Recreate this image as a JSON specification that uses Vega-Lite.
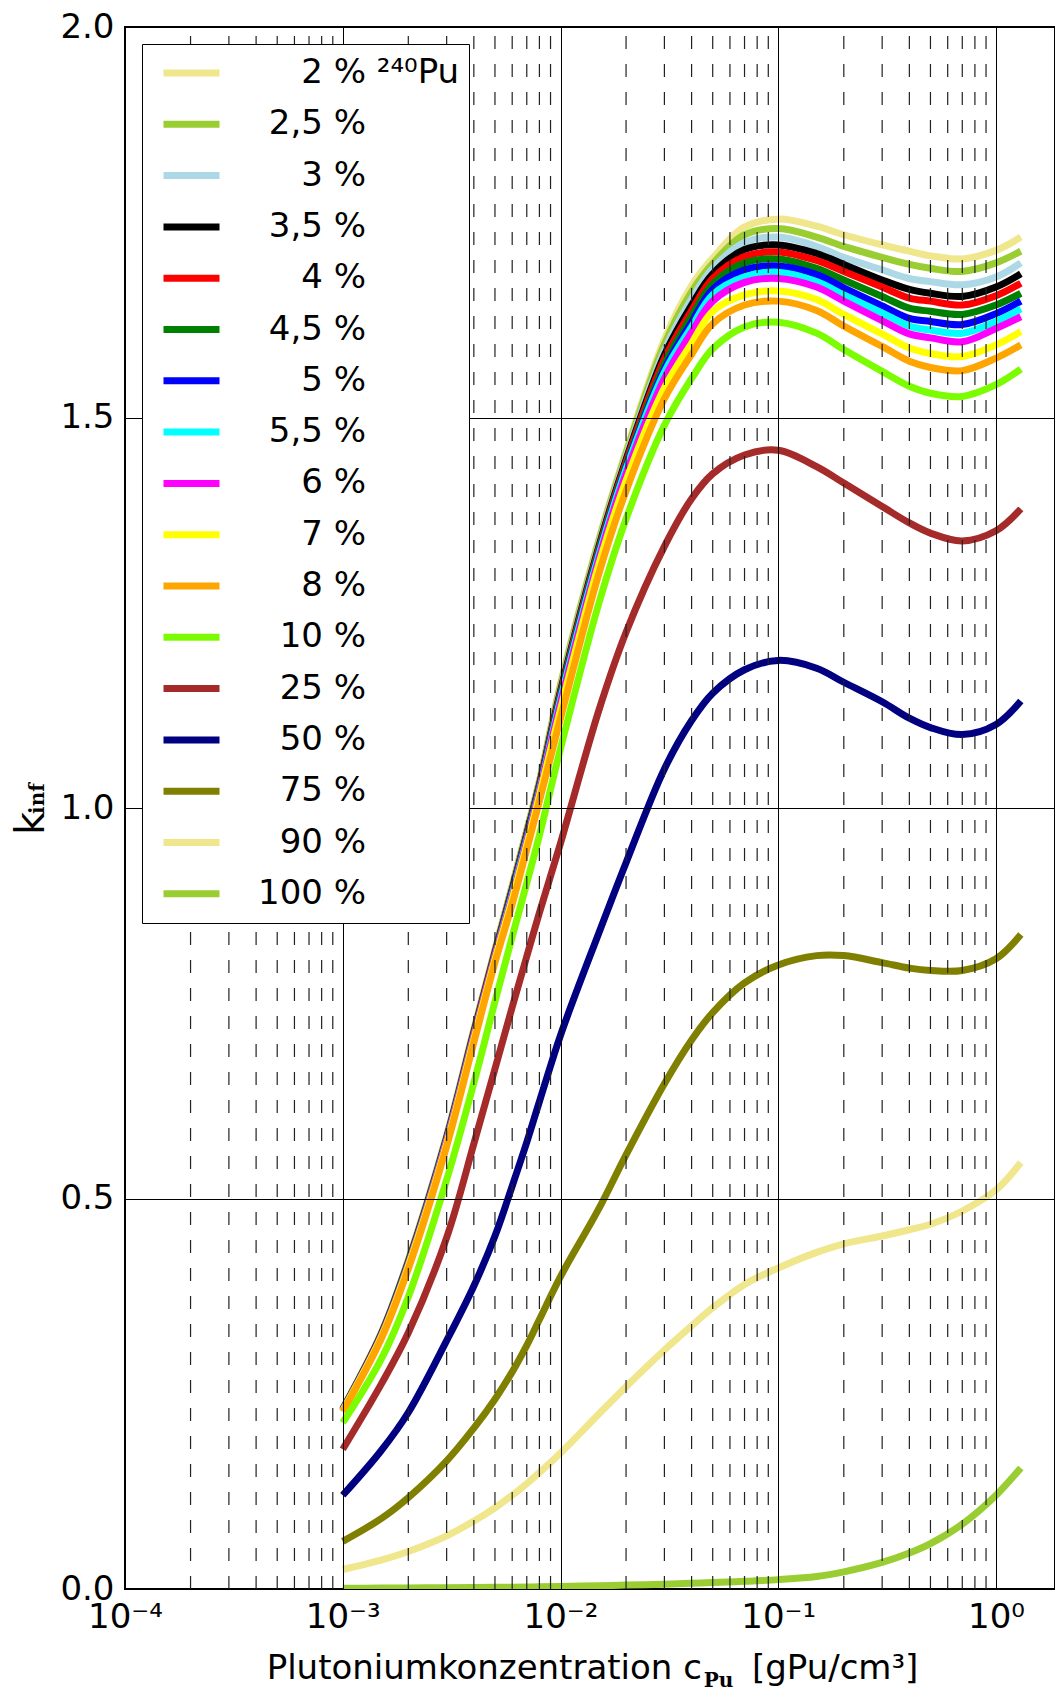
{
"$schema":"https://vega.github.io/schema/vega-lite/v6.json",
"width":930,"height":1562,
"autosize":{"type":"none"},
"padding":{"left":125,"top":27,"right":0,"bottom":102},
"background":"white",
"config":{"font":"DejaVu Sans","view":{"stroke":"black","strokeWidth":2}},
"layer":[
{
"data":{"values":[
{"s":"2 %","x":0.001,"k":0.231},{"s":"2 %","x":0.0015,"k":0.328},{"s":"2 %","x":0.002,"k":0.421},{"s":"2 %","x":0.003,"k":0.581},{"s":"2 %","x":0.004,"k":0.716},{"s":"2 %","x":0.005,"k":0.818},{"s":"2 %","x":0.006,"k":0.901},{"s":"2 %","x":0.007,"k":0.972},{"s":"2 %","x":0.008,"k":1.035},{"s":"2 %","x":0.01,"k":1.159},{"s":"2 %","x":0.015,"k":1.344},{"s":"2 %","x":0.02,"k":1.457},{"s":"2 %","x":0.03,"k":1.600},{"s":"2 %","x":0.04,"k":1.669},{"s":"2 %","x":0.05,"k":1.704},{"s":"2 %","x":0.07,"k":1.744},{"s":"2 %","x":0.1,"k":1.754},{"s":"2 %","x":0.15,"k":1.745},{"s":"2 %","x":0.2,"k":1.734},{"s":"2 %","x":0.3,"k":1.721},{"s":"2 %","x":0.4,"k":1.713},{"s":"2 %","x":0.5,"k":1.707},{"s":"2 %","x":0.7,"k":1.703},{"s":"2 %","x":1,"k":1.714},{"s":"2 %","x":1.3,"k":1.731},
{"s":"2,5 %","x":0.001,"k":0.231},{"s":"2,5 %","x":0.0015,"k":0.327},{"s":"2,5 %","x":0.002,"k":0.421},{"s":"2,5 %","x":0.003,"k":0.580},{"s":"2,5 %","x":0.004,"k":0.716},{"s":"2,5 %","x":0.005,"k":0.818},{"s":"2,5 %","x":0.006,"k":0.900},{"s":"2,5 %","x":0.007,"k":0.971},{"s":"2,5 %","x":0.008,"k":1.034},{"s":"2,5 %","x":0.01,"k":1.157},{"s":"2,5 %","x":0.015,"k":1.342},{"s":"2,5 %","x":0.02,"k":1.454},{"s":"2,5 %","x":0.03,"k":1.594},{"s":"2,5 %","x":0.04,"k":1.661},{"s":"2,5 %","x":0.05,"k":1.697},{"s":"2,5 %","x":0.07,"k":1.734},{"s":"2,5 %","x":0.1,"k":1.742},{"s":"2,5 %","x":0.15,"k":1.731},{"s":"2,5 %","x":0.2,"k":1.719},{"s":"2,5 %","x":0.3,"k":1.705},{"s":"2,5 %","x":0.4,"k":1.696},{"s":"2,5 %","x":0.5,"k":1.691},{"s":"2,5 %","x":0.7,"k":1.687},{"s":"2,5 %","x":1,"k":1.698},{"s":"2,5 %","x":1.3,"k":1.713},
{"s":"3 %","x":0.001,"k":0.230},{"s":"3 %","x":0.0015,"k":0.327},{"s":"3 %","x":0.002,"k":0.420},{"s":"3 %","x":0.003,"k":0.579},{"s":"3 %","x":0.004,"k":0.714},{"s":"3 %","x":0.005,"k":0.816},{"s":"3 %","x":0.006,"k":0.898},{"s":"3 %","x":0.007,"k":0.969},{"s":"3 %","x":0.008,"k":1.032},{"s":"3 %","x":0.01,"k":1.153},{"s":"3 %","x":0.015,"k":1.338},{"s":"3 %","x":0.02,"k":1.450},{"s":"3 %","x":0.03,"k":1.586},{"s":"3 %","x":0.04,"k":1.652},{"s":"3 %","x":0.05,"k":1.691},{"s":"3 %","x":0.07,"k":1.724},{"s":"3 %","x":0.1,"k":1.731},{"s":"3 %","x":0.15,"k":1.719},{"s":"3 %","x":0.2,"k":1.705},{"s":"3 %","x":0.3,"k":1.689},{"s":"3 %","x":0.4,"k":1.678},{"s":"3 %","x":0.5,"k":1.674},{"s":"3 %","x":0.7,"k":1.670},{"s":"3 %","x":1,"k":1.680},{"s":"3 %","x":1.3,"k":1.698},
{"s":"3,5 %","x":0.001,"k":0.230},{"s":"3,5 %","x":0.0015,"k":0.326},{"s":"3,5 %","x":0.002,"k":0.419},{"s":"3,5 %","x":0.003,"k":0.578},{"s":"3,5 %","x":0.004,"k":0.713},{"s":"3,5 %","x":0.005,"k":0.815},{"s":"3,5 %","x":0.006,"k":0.896},{"s":"3,5 %","x":0.007,"k":0.967},{"s":"3,5 %","x":0.008,"k":1.030},{"s":"3,5 %","x":0.01,"k":1.150},{"s":"3,5 %","x":0.015,"k":1.335},{"s":"3,5 %","x":0.02,"k":1.446},{"s":"3,5 %","x":0.03,"k":1.580},{"s":"3,5 %","x":0.04,"k":1.644},{"s":"3,5 %","x":0.05,"k":1.684},{"s":"3,5 %","x":0.07,"k":1.715},{"s":"3,5 %","x":0.1,"k":1.721},{"s":"3,5 %","x":0.15,"k":1.710},{"s":"3,5 %","x":0.2,"k":1.696},{"s":"3,5 %","x":0.3,"k":1.676},{"s":"3,5 %","x":0.4,"k":1.664},{"s":"3,5 %","x":0.5,"k":1.659},{"s":"3,5 %","x":0.7,"k":1.655},{"s":"3,5 %","x":1,"k":1.667},{"s":"3,5 %","x":1.3,"k":1.684},
{"s":"4 %","x":0.001,"k":0.230},{"s":"4 %","x":0.0015,"k":0.325},{"s":"4 %","x":0.002,"k":0.418},{"s":"4 %","x":0.003,"k":0.577},{"s":"4 %","x":0.004,"k":0.712},{"s":"4 %","x":0.005,"k":0.814},{"s":"4 %","x":0.006,"k":0.894},{"s":"4 %","x":0.007,"k":0.965},{"s":"4 %","x":0.008,"k":1.028},{"s":"4 %","x":0.01,"k":1.147},{"s":"4 %","x":0.015,"k":1.332},{"s":"4 %","x":0.02,"k":1.443},{"s":"4 %","x":0.03,"k":1.575},{"s":"4 %","x":0.04,"k":1.637},{"s":"4 %","x":0.05,"k":1.678},{"s":"4 %","x":0.07,"k":1.706},{"s":"4 %","x":0.1,"k":1.712},{"s":"4 %","x":0.15,"k":1.701},{"s":"4 %","x":0.2,"k":1.687},{"s":"4 %","x":0.3,"k":1.667},{"s":"4 %","x":0.4,"k":1.653},{"s":"4 %","x":0.5,"k":1.649},{"s":"4 %","x":0.7,"k":1.644},{"s":"4 %","x":1,"k":1.656},{"s":"4 %","x":1.3,"k":1.672},
{"s":"4,5 %","x":0.001,"k":0.229},{"s":"4,5 %","x":0.0015,"k":0.325},{"s":"4,5 %","x":0.002,"k":0.417},{"s":"4,5 %","x":0.003,"k":0.576},{"s":"4,5 %","x":0.004,"k":0.710},{"s":"4,5 %","x":0.005,"k":0.812},{"s":"4,5 %","x":0.006,"k":0.892},{"s":"4,5 %","x":0.007,"k":0.963},{"s":"4,5 %","x":0.008,"k":1.026},{"s":"4,5 %","x":0.01,"k":1.144},{"s":"4,5 %","x":0.015,"k":1.329},{"s":"4,5 %","x":0.02,"k":1.439},{"s":"4,5 %","x":0.03,"k":1.568},{"s":"4,5 %","x":0.04,"k":1.630},{"s":"4,5 %","x":0.05,"k":1.671},{"s":"4,5 %","x":0.07,"k":1.698},{"s":"4,5 %","x":0.1,"k":1.703},{"s":"4,5 %","x":0.15,"k":1.691},{"s":"4,5 %","x":0.2,"k":1.676},{"s":"4,5 %","x":0.3,"k":1.655},{"s":"4,5 %","x":0.4,"k":1.640},{"s":"4,5 %","x":0.5,"k":1.636},{"s":"4,5 %","x":0.7,"k":1.632},{"s":"4,5 %","x":1,"k":1.644},{"s":"4,5 %","x":1.3,"k":1.659},
{"s":"5 %","x":0.001,"k":0.229},{"s":"5 %","x":0.0015,"k":0.324},{"s":"5 %","x":0.002,"k":0.416},{"s":"5 %","x":0.003,"k":0.575},{"s":"5 %","x":0.004,"k":0.709},{"s":"5 %","x":0.005,"k":0.811},{"s":"5 %","x":0.006,"k":0.891},{"s":"5 %","x":0.007,"k":0.961},{"s":"5 %","x":0.008,"k":1.024},{"s":"5 %","x":0.01,"k":1.141},{"s":"5 %","x":0.015,"k":1.326},{"s":"5 %","x":0.02,"k":1.436},{"s":"5 %","x":0.03,"k":1.562},{"s":"5 %","x":0.04,"k":1.622},{"s":"5 %","x":0.05,"k":1.664},{"s":"5 %","x":0.07,"k":1.689},{"s":"5 %","x":0.1,"k":1.694},{"s":"5 %","x":0.15,"k":1.683},{"s":"5 %","x":0.2,"k":1.666},{"s":"5 %","x":0.3,"k":1.643},{"s":"5 %","x":0.4,"k":1.627},{"s":"5 %","x":0.5,"k":1.623},{"s":"5 %","x":0.7,"k":1.619},{"s":"5 %","x":1,"k":1.633},{"s":"5 %","x":1.3,"k":1.649},
{"s":"5,5 %","x":0.001,"k":0.229},{"s":"5,5 %","x":0.0015,"k":0.323},{"s":"5,5 %","x":0.002,"k":0.415},{"s":"5,5 %","x":0.003,"k":0.574},{"s":"5,5 %","x":0.004,"k":0.708},{"s":"5,5 %","x":0.005,"k":0.810},{"s":"5,5 %","x":0.006,"k":0.889},{"s":"5,5 %","x":0.007,"k":0.959},{"s":"5,5 %","x":0.008,"k":1.022},{"s":"5,5 %","x":0.01,"k":1.139},{"s":"5,5 %","x":0.015,"k":1.324},{"s":"5,5 %","x":0.02,"k":1.434},{"s":"5,5 %","x":0.03,"k":1.558},{"s":"5,5 %","x":0.04,"k":1.616},{"s":"5,5 %","x":0.05,"k":1.657},{"s":"5,5 %","x":0.07,"k":1.680},{"s":"5,5 %","x":0.1,"k":1.686},{"s":"5,5 %","x":0.15,"k":1.674},{"s":"5,5 %","x":0.2,"k":1.657},{"s":"5,5 %","x":0.3,"k":1.634},{"s":"5,5 %","x":0.4,"k":1.617},{"s":"5,5 %","x":0.5,"k":1.612},{"s":"5,5 %","x":0.7,"k":1.608},{"s":"5,5 %","x":1,"k":1.623},{"s":"5,5 %","x":1.3,"k":1.639},
{"s":"6 %","x":0.001,"k":0.228},{"s":"6 %","x":0.0015,"k":0.323},{"s":"6 %","x":0.002,"k":0.414},{"s":"6 %","x":0.003,"k":0.573},{"s":"6 %","x":0.004,"k":0.707},{"s":"6 %","x":0.005,"k":0.809},{"s":"6 %","x":0.006,"k":0.886},{"s":"6 %","x":0.007,"k":0.957},{"s":"6 %","x":0.008,"k":1.020},{"s":"6 %","x":0.01,"k":1.134},{"s":"6 %","x":0.015,"k":1.319},{"s":"6 %","x":0.02,"k":1.428},{"s":"6 %","x":0.03,"k":1.550},{"s":"6 %","x":0.04,"k":1.609},{"s":"6 %","x":0.05,"k":1.649},{"s":"6 %","x":0.07,"k":1.673},{"s":"6 %","x":0.1,"k":1.678},{"s":"6 %","x":0.15,"k":1.667},{"s":"6 %","x":0.2,"k":1.649},{"s":"6 %","x":0.3,"k":1.624},{"s":"6 %","x":0.4,"k":1.607},{"s":"6 %","x":0.5,"k":1.602},{"s":"6 %","x":0.7,"k":1.597},{"s":"6 %","x":1,"k":1.614},{"s":"6 %","x":1.3,"k":1.629},
{"s":"7 %","x":0.001,"k":0.228},{"s":"7 %","x":0.0015,"k":0.322},{"s":"7 %","x":0.002,"k":0.413},{"s":"7 %","x":0.003,"k":0.570},{"s":"7 %","x":0.004,"k":0.704},{"s":"7 %","x":0.005,"k":0.806},{"s":"7 %","x":0.006,"k":0.883},{"s":"7 %","x":0.007,"k":0.953},{"s":"7 %","x":0.008,"k":1.016},{"s":"7 %","x":0.01,"k":1.126},{"s":"7 %","x":0.015,"k":1.312},{"s":"7 %","x":0.02,"k":1.419},{"s":"7 %","x":0.03,"k":1.538},{"s":"7 %","x":0.04,"k":1.595},{"s":"7 %","x":0.05,"k":1.636},{"s":"7 %","x":0.07,"k":1.657},{"s":"7 %","x":0.1,"k":1.662},{"s":"7 %","x":0.15,"k":1.651},{"s":"7 %","x":0.2,"k":1.632},{"s":"7 %","x":0.3,"k":1.607},{"s":"7 %","x":0.4,"k":1.589},{"s":"7 %","x":0.5,"k":1.582},{"s":"7 %","x":0.7,"k":1.578},{"s":"7 %","x":1,"k":1.593},{"s":"7 %","x":1.3,"k":1.610},
{"s":"8 %","x":0.001,"k":0.227},{"s":"8 %","x":0.0015,"k":0.320},{"s":"8 %","x":0.002,"k":0.410},{"s":"8 %","x":0.003,"k":0.567},{"s":"8 %","x":0.004,"k":0.700},{"s":"8 %","x":0.005,"k":0.802},{"s":"8 %","x":0.006,"k":0.877},{"s":"8 %","x":0.007,"k":0.947},{"s":"8 %","x":0.008,"k":1.009},{"s":"8 %","x":0.01,"k":1.115},{"s":"8 %","x":0.015,"k":1.300},{"s":"8 %","x":0.02,"k":1.406},{"s":"8 %","x":0.03,"k":1.524},{"s":"8 %","x":0.04,"k":1.581},{"s":"8 %","x":0.05,"k":1.620},{"s":"8 %","x":0.07,"k":1.644},{"s":"8 %","x":0.1,"k":1.649},{"s":"8 %","x":0.15,"k":1.637},{"s":"8 %","x":0.2,"k":1.617},{"s":"8 %","x":0.3,"k":1.591},{"s":"8 %","x":0.4,"k":1.572},{"s":"8 %","x":0.5,"k":1.564},{"s":"8 %","x":0.7,"k":1.560},{"s":"8 %","x":1,"k":1.576},{"s":"8 %","x":1.3,"k":1.593},
{"s":"10 %","x":0.001,"k":0.213},{"s":"10 %","x":0.0015,"k":0.294},{"s":"10 %","x":0.002,"k":0.374},{"s":"10 %","x":0.003,"k":0.524},{"s":"10 %","x":0.004,"k":0.648},{"s":"10 %","x":0.005,"k":0.752},{"s":"10 %","x":0.006,"k":0.835},{"s":"10 %","x":0.007,"k":0.904},{"s":"10 %","x":0.008,"k":0.965},{"s":"10 %","x":0.01,"k":1.076},{"s":"10 %","x":0.015,"k":1.262},{"s":"10 %","x":0.02,"k":1.370},{"s":"10 %","x":0.03,"k":1.490},{"s":"10 %","x":0.04,"k":1.550},{"s":"10 %","x":0.05,"k":1.588},{"s":"10 %","x":0.07,"k":1.616},{"s":"10 %","x":0.1,"k":1.622},{"s":"10 %","x":0.15,"k":1.608},{"s":"10 %","x":0.2,"k":1.587},{"s":"10 %","x":0.3,"k":1.559},{"s":"10 %","x":0.4,"k":1.540},{"s":"10 %","x":0.5,"k":1.531},{"s":"10 %","x":0.7,"k":1.527},{"s":"10 %","x":1,"k":1.542},{"s":"10 %","x":1.3,"k":1.562},
{"s":"25 %","x":0.001,"k":0.179},{"s":"25 %","x":0.0015,"k":0.262},{"s":"25 %","x":0.002,"k":0.328},{"s":"25 %","x":0.003,"k":0.450},{"s":"25 %","x":0.004,"k":0.570},{"s":"25 %","x":0.005,"k":0.666},{"s":"25 %","x":0.006,"k":0.745},{"s":"25 %","x":0.007,"k":0.810},{"s":"25 %","x":0.008,"k":0.866},{"s":"25 %","x":0.01,"k":0.955},{"s":"25 %","x":0.015,"k":1.125},{"s":"25 %","x":0.02,"k":1.225},{"s":"25 %","x":0.03,"k":1.335},{"s":"25 %","x":0.04,"k":1.396},{"s":"25 %","x":0.05,"k":1.428},{"s":"25 %","x":0.07,"k":1.452},{"s":"25 %","x":0.1,"k":1.458},{"s":"25 %","x":0.15,"k":1.437},{"s":"25 %","x":0.2,"k":1.416},{"s":"25 %","x":0.3,"k":1.386},{"s":"25 %","x":0.4,"k":1.365},{"s":"25 %","x":0.5,"k":1.352},{"s":"25 %","x":0.7,"k":1.342},{"s":"25 %","x":1,"k":1.355},{"s":"25 %","x":1.3,"k":1.383},
{"s":"50 %","x":0.001,"k":0.120},{"s":"50 %","x":0.0015,"k":0.177},{"s":"50 %","x":0.002,"k":0.226},{"s":"50 %","x":0.003,"k":0.318},{"s":"50 %","x":0.004,"k":0.388},{"s":"50 %","x":0.005,"k":0.452},{"s":"50 %","x":0.006,"k":0.516},{"s":"50 %","x":0.007,"k":0.572},{"s":"50 %","x":0.008,"k":0.624},{"s":"50 %","x":0.01,"k":0.709},{"s":"50 %","x":0.015,"k":0.840},{"s":"50 %","x":0.02,"k":0.930},{"s":"50 %","x":0.03,"k":1.050},{"s":"50 %","x":0.04,"k":1.112},{"s":"50 %","x":0.05,"k":1.147},{"s":"50 %","x":0.07,"k":1.177},{"s":"50 %","x":0.1,"k":1.189},{"s":"50 %","x":0.15,"k":1.179},{"s":"50 %","x":0.2,"k":1.161},{"s":"50 %","x":0.3,"k":1.136},{"s":"50 %","x":0.4,"k":1.115},{"s":"50 %","x":0.5,"k":1.103},{"s":"50 %","x":0.7,"k":1.094},{"s":"50 %","x":1,"k":1.107},{"s":"50 %","x":1.3,"k":1.137},
{"s":"75 %","x":0.001,"k":0.061},{"s":"75 %","x":0.0015,"k":0.090},{"s":"75 %","x":0.002,"k":0.117},{"s":"75 %","x":0.003,"k":0.164},{"s":"75 %","x":0.004,"k":0.206},{"s":"75 %","x":0.005,"k":0.243},{"s":"75 %","x":0.006,"k":0.278},{"s":"75 %","x":0.007,"k":0.312},{"s":"75 %","x":0.008,"k":0.345},{"s":"75 %","x":0.01,"k":0.400},{"s":"75 %","x":0.015,"k":0.487},{"s":"75 %","x":0.02,"k":0.556},{"s":"75 %","x":0.03,"k":0.647},{"s":"75 %","x":0.04,"k":0.703},{"s":"75 %","x":0.05,"k":0.738},{"s":"75 %","x":0.07,"k":0.776},{"s":"75 %","x":0.1,"k":0.799},{"s":"75 %","x":0.15,"k":0.811},{"s":"75 %","x":0.2,"k":0.811},{"s":"75 %","x":0.3,"k":0.802},{"s":"75 %","x":0.4,"k":0.795},{"s":"75 %","x":0.5,"k":0.792},{"s":"75 %","x":0.7,"k":0.792},{"s":"75 %","x":1,"k":0.807},{"s":"75 %","x":1.3,"k":0.838},
{"s":"90 %","x":0.001,"k":0.025},{"s":"90 %","x":0.0015,"k":0.037},{"s":"90 %","x":0.002,"k":0.048},{"s":"90 %","x":0.003,"k":0.068},{"s":"90 %","x":0.004,"k":0.087},{"s":"90 %","x":0.005,"k":0.104},{"s":"90 %","x":0.006,"k":0.120},{"s":"90 %","x":0.007,"k":0.135},{"s":"90 %","x":0.008,"k":0.149},{"s":"90 %","x":0.01,"k":0.174},{"s":"90 %","x":0.015,"k":0.224},{"s":"90 %","x":0.02,"k":0.259},{"s":"90 %","x":0.03,"k":0.306},{"s":"90 %","x":0.04,"k":0.337},{"s":"90 %","x":0.05,"k":0.360},{"s":"90 %","x":0.07,"k":0.390},{"s":"90 %","x":0.1,"k":0.411},{"s":"90 %","x":0.15,"k":0.431},{"s":"90 %","x":0.2,"k":0.442},{"s":"90 %","x":0.3,"k":0.452},{"s":"90 %","x":0.4,"k":0.460},{"s":"90 %","x":0.5,"k":0.467},{"s":"90 %","x":0.7,"k":0.484},{"s":"90 %","x":1,"k":0.511},{"s":"90 %","x":1.3,"k":0.546},
{"s":"100 %","x":0.001,"k":0.001},{"s":"100 %","x":0.0015,"k":0.0012},{"s":"100 %","x":0.002,"k":0.0014},{"s":"100 %","x":0.003,"k":0.0017},{"s":"100 %","x":0.004,"k":0.002},{"s":"100 %","x":0.005,"k":0.0022},{"s":"100 %","x":0.006,"k":0.0024},{"s":"100 %","x":0.007,"k":0.0026},{"s":"100 %","x":0.008,"k":0.0028},{"s":"100 %","x":0.01,"k":0.0033},{"s":"100 %","x":0.015,"k":0.0042},{"s":"100 %","x":0.02,"k":0.005},{"s":"100 %","x":0.03,"k":0.0062},{"s":"100 %","x":0.04,"k":0.0073},{"s":"100 %","x":0.05,"k":0.0082},{"s":"100 %","x":0.07,"k":0.0098},{"s":"100 %","x":0.1,"k":0.012},{"s":"100 %","x":0.15,"k":0.016},{"s":"100 %","x":0.2,"k":0.022},{"s":"100 %","x":0.3,"k":0.034},{"s":"100 %","x":0.4,"k":0.046},{"s":"100 %","x":0.5,"k":0.058},{"s":"100 %","x":0.7,"k":0.083},{"s":"100 %","x":1,"k":0.120},{"s":"100 %","x":1.3,"k":0.155}
]},
"mark":{"type":"line","strokeWidth":7,"interpolate":"catmull-rom","clip":true},
"encoding":{
"x":{"field":"x","type":"quantitative",
"scale":{"type":"log","domain":[0.0001,1.866],"nice":false},
"axis":{"values":[0.0001,0.001,0.01,0.1,1],
"labelExpr":"datum.value < 0.0005 ? '10⁻⁴' : datum.value < 0.005 ? '10⁻³' : datum.value < 0.05 ? '10⁻²' : datum.value < 0.5 ? '10⁻¹' : '10⁰'",
"labelFont":"DejaVu Sans","labelFontSize":34,"labelColor":"black","labelFlush":false,"labelOverlap":false,"labelPadding":19,
"ticks":true,"tickColor":"black","tickWidth":1,"tickSize":-8,
"grid":true,"gridWidth":1,"gridColor":"black",
"domain":false,"zindex":1,"orient":"bottom",
"title":"Plutoniumkonzentration c\u00a0\u00a0\u00a0\u00a0\u2009[gPu/cm³]",
"titleFont":"DejaVu Sans","titleFontSize":34,"titleFontWeight":"normal","titleColor":"black",
"titleX":467,"titleY":89,"titleAlign":"center","titleBaseline":"alphabetic"}},
"y":{"field":"k","type":"quantitative",
"scale":{"domain":[0,2],"nice":false,"zero":false},
"axis":{"values":[0,0.5,1,1.5,2],"format":".1f",
"labelFont":"DejaVu Sans","labelFontSize":34,"labelColor":"black","labelFlush":false,"labelPadding":19,
"ticks":true,"tickColor":"black","tickSize":-8,"tickWidth":1,
"grid":true,"gridColor":"black","gridWidth":1,"domain":false,"zindex":1,"orient":"left",
"title":"k","titleFont":"DejaVu Sans","titleFontSize":40,"titleFontWeight":"normal","titleColor":"black",
"titleAngle":270,"titleX":-82,"titleY":796,"titleAlign":"center","titleBaseline":"alphabetic"}},
"color":{"field":"s","type":"nominal",
"scale":{"domain":["2 %","2,5 %","3 %","3,5 %","4 %","4,5 %","5 %","5,5 %","6 %","7 %","8 %","10 %","25 %","50 %","75 %","90 %","100 %"],
"range":["#F0E68C","#9ACD32","#ADD8E6","#000000","#FF0000","#008000","#0000FF","#00FFFF","#FF00FF","#FFFF00","#FFA500","#7CFC00","#A52A2A","#000080","#808000","#F0E68C","#9ACD32"]},
"legend":{"orient":"top-left","offset":17,"title":null,"padding":9,"rowPadding":11.3,"clipHeight":40,
"fillColor":"white","strokeColor":"black","cornerRadius":0,
"symbolType":"stroke","symbolSize":3136,"symbolStrokeWidth":7,"symbolOffset":9,
"labelOffset":35,"labelFont":"DejaVu Sans","labelFontSize":34,"labelColor":"black","labelLimit":400,
"labelExpr":"datum.label === '2 %' ? '\u2060\u2007\u20072 % ²⁴⁰Pu' : length(datum.label) == 3 ? '\u2060\u2007\u2007' + datum.label : length(datum.label) == 4 ? '\u2060\u2007' + datum.label : indexof(datum.label, ',') > 0 ? '\u2060\u2008' + datum.label : datum.label",
"encoding":{"legend":{"update":{"strokeWidth":{"value":2}}}},
"zindex":2}}
}
},
{
"data":{"values":[{"g":0.0002},{"g":0.0003},{"g":0.0004},{"g":0.0005},{"g":0.0006},{"g":0.0007},{"g":0.0008},{"g":0.0009},{"g":0.002},{"g":0.003},{"g":0.004},{"g":0.005},{"g":0.006},{"g":0.007},{"g":0.008},{"g":0.009},{"g":0.02},{"g":0.03},{"g":0.04},{"g":0.05},{"g":0.06},{"g":0.07},{"g":0.08},{"g":0.09},{"g":0.2},{"g":0.3},{"g":0.4},{"g":0.5},{"g":0.6},{"g":0.7},{"g":0.8},{"g":0.9}]},
"mark":{"type":"rule","strokeDash":[13,15],"strokeWidth":1.2,"color":"#222222"},
"encoding":{
"x":{"field":"g","type":"quantitative","axis":null},
"y":{"datum":0,"axis":null},
"y2":{"datum":2}
}
},
{
"data":{"values":[]},
"mark":{"type":"point","opacity":0},
"encoding":{
"x":{"field":"x","type":"quantitative",
"axis":{"orient":"bottom","labels":false,"ticks":false,"domain":false,"grid":false,
"title":"Pu","titleFont":"DejaVu Serif","titleFontSize":20,"titleFontWeight":"bold","titleColor":"black",
"titleX":593,"titleY":97,"titleAlign":"center","titleBaseline":"alphabetic"}},
"y":{"field":"k","type":"quantitative",
"axis":{"orient":"left","labels":false,"ticks":false,"domain":false,"grid":false,
"title":"inf","titleFont":"DejaVu Serif","titleFontSize":20,"titleFontWeight":"bold","titleColor":"black",
"titleAngle":270,"titleX":-82,"titleY":771,"titleAlign":"center","titleBaseline":"alphabetic"}}
}
}
],
"resolve":{"axis":{"x":"independent","y":"independent"}}
}
